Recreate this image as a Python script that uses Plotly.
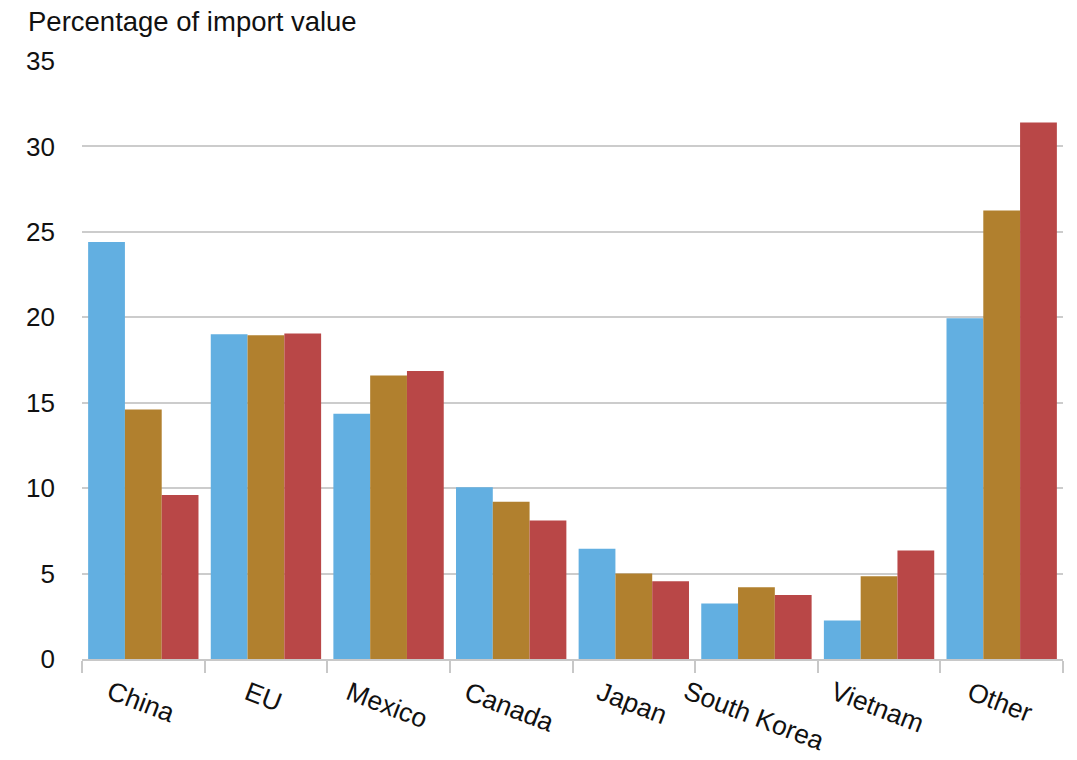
import plotly.graph_objects as go

categories = ["China", "EU", "Mexico", "Canada", "Japan", "South Korea", "Vietnam", "Other"]
series_names = ["Series 1", "Series 2", "Series 3"]
series_1 = [24.4, 19.0, 14.35, 10.05, 6.45, 3.25, 2.25, 19.95]
series_2 = [14.6, 18.95, 16.6, 9.2, 5.0, 4.2, 4.85, 26.25]
series_3 = [9.6, 19.05, 16.85, 8.1, 4.55, 3.75, 6.35, 31.4]
colors = ["#62AFE1", "#B1802E", "#B94747"]
y_ticks = [0, 5, 10, 15, 20, 25, 30, 35]

FONT = "Liberation Sans, Arial, sans-serif"

fig = go.Figure()
for name, vals, col in zip(series_names, [series_1, series_2, series_3], colors):
    fig.add_trace(go.Bar(x=categories, y=vals, name=name,
                         marker=dict(color=col, line=dict(width=0))))

for c in categories:
    fig.add_annotation(x=c, xref="x", y=-0.024, yref="paper", text=c,
                       showarrow=False, textangle=21, xanchor="center", yanchor="top",
                       xshift=-2,
                       font=dict(family=FONT, size=26.5, color="#111111"))

fig.add_annotation(x=-0.057, xref="paper", y=1.036, yref="paper",
                   text="Percentage of import value", showarrow=False,
                   xanchor="left", yanchor="bottom",
                   font=dict(family=FONT, size=27.5, color="#111111"))

fig.update_layout(
    width=1077, height=760,
    margin=dict(l=82, r=14, t=61, b=101),
    paper_bgcolor="white", plot_bgcolor="white",
    barmode="group", bargap=0.1, bargroupgap=0,
    showlegend=False,
    font=dict(family=FONT, color="#111111"),
    xaxis=dict(showticklabels=False, tickson="boundaries", ticks="outside",
               ticklen=12, tickwidth=2, tickcolor="#C8C8C8",
               showline=True, linecolor="#C8C8C8", linewidth=2, showgrid=False),
    yaxis=dict(range=[0, 35], tickvals=y_ticks, showgrid=True, gridcolor="#CCCCCC",
               gridwidth=2, zeroline=False, showline=False, ticks="",
               ticklabelstandoff=26,
               tickfont=dict(family=FONT, size=26, color="#111111")),
)

fig.write_html("out.html")
